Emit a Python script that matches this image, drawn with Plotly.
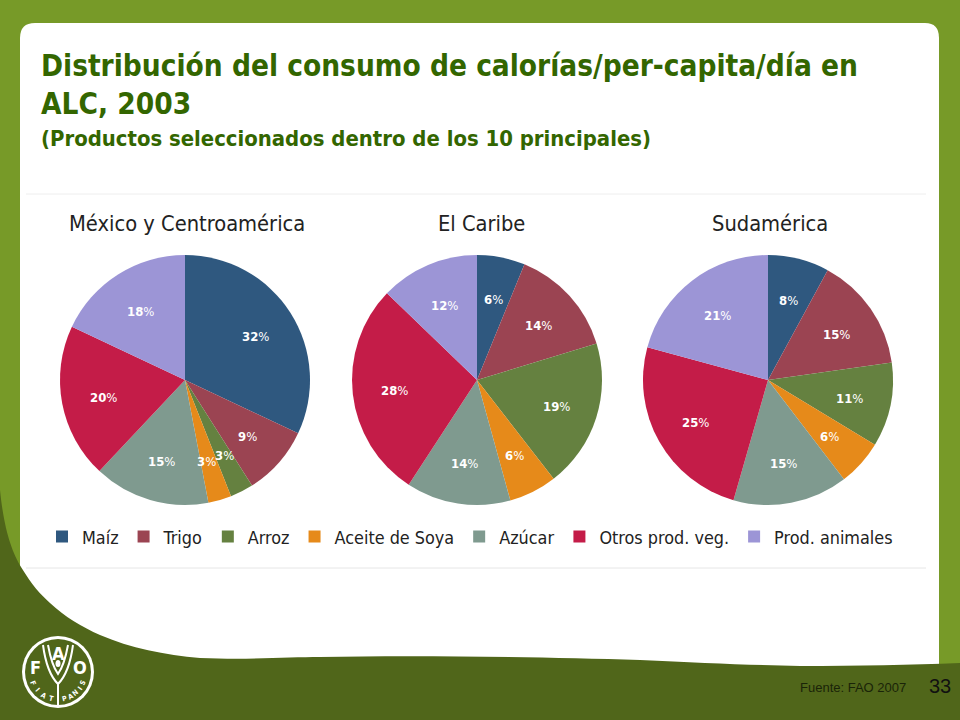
import math

import plotly.graph_objects as go

W, H = 960, 720

productos = ["Maíz", "Trigo", "Arroz", "Aceite de Soya", "Azúcar", "Otros prod. veg.", "Prod. animales"]
colores = ["#2f587f", "#9b4452", "#658140", "#e68a1a", "#7f9a8f", "#c41c48", "#9c95d6"]

mexico = [32, 9, 3, 3, 15, 20, 18]
# el Caribe: sectores, las etiquetas van redondeadas aparte
caribe = [6.2, 14.1, 19.2, 6.2, 13.5, 28.0, 12.8]
sudamerica = [8, 15, 11, 6, 15, 25, 21]

etiquetas_mexico = [32, 9, 3, 3, 15, 20, 18]
etiquetas_caribe = [6, 14, 19, 6, 14, 28, 12]
etiquetas_sudamerica = [8, 15, 11, 6, 15, 25, 21]

regiones = ["México y Centroamérica", "El Caribe", "Sudamérica"]
valores = [mexico, caribe, sudamerica]
etiquetas = [etiquetas_mexico, etiquetas_caribe, etiquetas_sudamerica]
centros_x = [185, 477, 768]
titulos_x = [186.5, 481, 770]
centro_y = 380
radio = 125

FUENTE = "DejaVu Sans Condensed"
VERDE_TITULO = "#336600"
VERDE_CLARO = "#779a28"
VERDE_OSCURO = "#50661a"


def px_x(x):
    return x / W


def px_y(y):
    return 1 - y / H


def texto(x, y, s, size, color, family=FUENTE, anchor="left", angle=0):
    return dict(
        x=px_x(x), y=px_y(y), xref="paper", yref="paper", text=s, showarrow=False,
        xanchor=anchor, yanchor="middle", align=anchor, textangle=angle,
        font=dict(family=family, size=size, color=color),
    )


def etiquetas_pie(vals, rotulos, cx):
    # porcentajes a 2/3 del radio, en el ángulo medio de cada sector
    total = sum(vals)
    acum = 0
    out = []
    for k, (v, r) in enumerate(zip(vals, rotulos)):
        medio = (acum + v / 2) / total * 2 * math.pi
        acum += v
        x = cx + 0.665 * radio * math.sin(medio)
        y = centro_y + 1.5 - 0.665 * radio * math.cos(medio)
        # los dos sectores de 3% quedan pegados: se separan un poco
        if v == 3:
            x += 2 if k == 2 else -2
        out.append(texto(x, y, f"<b>{r}</b>%", 13, "white", anchor="center"))
    return out


fig = go.Figure()
fig.add_trace(go.Scatter(x=[None], y=[None], showlegend=False, hoverinfo="skip"))
anotaciones = []
for i, (region, vals) in enumerate(zip(regiones, valores)):
    cx = centros_x[i]
    fig.add_trace(go.Pie(
        labels=productos,
        values=vals,
        textinfo="none",
        marker=dict(colors=colores, line=dict(width=0)),
        sort=False,
        direction="clockwise",
        rotation=0,
        domain=dict(
            x=[px_x(cx - radio), px_x(cx + radio)],
            y=[px_y(centro_y + radio), px_y(centro_y - radio)],
        ),
        showlegend=i == 0,
        hoverinfo="label+percent",
    ))
    anotaciones.extend(etiquetas_pie(vals, etiquetas[i], cx))
    anotaciones.append(texto(titulos_x[i], 223, region, 21.7, "#222222", anchor="center"))

formas = [
    # panel blanco
    dict(type="path", path="M 20,38 Q 20,23 35,23 L 925,23 Q 939,23 939,38 L 939,680 L 20,680 Z",
         fillcolor="white", line_width=0),
    # franja oscura inferior
    dict(type="path",
         path="M 0,490 C 4,530 12,552 21,567 C 32,585 40,594 50,603 C 65,617 82,627 100,635 "
              "C 130,648 165,655 200,658 C 250,660 290,657 320,657 C 420,655 540,657 640,660 "
              "C 700,663 750,665 800,666 C 860,666 910,665 960,663 L 960,720 L 0,720 Z",
         fillcolor=VERDE_OSCURO, line_width=0),
    # separadores
    dict(type="line", x0=26, x1=926, y0=194, y1=194, line=dict(color="#eeeeee", width=1)),
    dict(type="line", x0=26, x1=926, y0=568, y1=568, line=dict(color="#e6e6e6", width=1)),
    # logo FAO
    dict(type="circle", x0=22, x1=94, y0=636, y1=708, fillcolor="white", line_width=0),
    dict(type="circle", x0=25, x1=91, y0=639, y1=705, fillcolor=VERDE_OSCURO, line_width=0),
    dict(type="path", path="M 58,705 L 58,684 "
                           "M 43,645 C 45,660 50,676 58,684 C 66,676 71,660 73,645 "
                           "M 48,645 C 50,656 53,667 58,674 C 63,667 66,656 68,645",
         line=dict(color="white", width=2)),
    dict(type="circle", x0=55.5, x1=60.5, y0=660, y1=667, fillcolor="white", line_width=0),
]
for f in formas:
    f.update(xref="x", yref="y", layer="below")

anotaciones += [
    texto(39, 66, "<b>Distribución del consumo de calorías/per-capita/día en</b>", 29.5, VERDE_TITULO),
    texto(39, 104, "<b>ALC, 2003</b>", 29.5, VERDE_TITULO),
    texto(39, 138, "<b>(Productos seleccionados dentro de los 10 principales)</b>", 21.9, VERDE_TITULO),
    texto(798, 687, "Fuente: FAO 2007", 13, "#1a2408", family="Liberation Sans"),
    texto(927, 686, "33", 20, "#111111", family="Liberation Sans"),
    texto(58.5, 653, "<b>A</b>", 18, "white", anchor="center"),
    texto(35, 667, "<b>F</b>", 18, "white", anchor="center"),
    texto(80, 667, "<b>O</b>", 18, "white", anchor="center"),
]
# FIAT PANIS sobre el arco inferior del logo
for letra, ang in zip("FIAT", [67, 49, 31, 14]):
    a = math.radians(ang)
    anotaciones.append(texto(58 - 27.5 * math.sin(a), 672 + 27.5 * math.cos(a), f"<b>{letra}</b>", 7,
                             "white", anchor="center", angle=ang))
for letra, ang in zip("PANIS", [14, 27, 40, 53, 66]):
    a = math.radians(ang)
    anotaciones.append(texto(58 + 27.5 * math.sin(a), 672 + 27.5 * math.cos(a), f"<b>{letra}</b>", 7,
                             "white", anchor="center", angle=-ang))

fig.update_layout(
    width=W,
    height=H,
    margin=dict(l=0, r=0, t=0, b=0),
    paper_bgcolor=VERDE_CLARO,
    plot_bgcolor=VERDE_CLARO,
    xaxis=dict(visible=False, range=[0, W], domain=[0, 1], fixedrange=True),
    yaxis=dict(visible=False, range=[H, 0], domain=[0, 1], fixedrange=True),
    shapes=formas,
    annotations=anotaciones,
    legend=dict(
        orientation="h", x=px_x(42), y=px_y(537), xanchor="left", yanchor="middle",
        font=dict(family=FUENTE, size=17.85, color="#222222"),
        bgcolor="rgba(0,0,0,0)", traceorder="normal",
    ),
)

fig.write_html("out.html", config=dict(displayModeBar=False), post_script="document.body.style.margin='0';")
